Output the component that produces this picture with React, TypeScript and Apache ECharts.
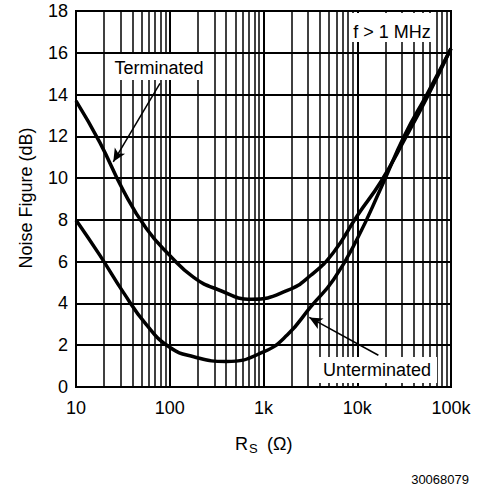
import React, { useEffect, useRef } from "react";
import * as echarts from "echarts";

// Source resistance (ohm) and noise figure (dB)
const termR = [10, 18, 32, 56, 100, 180, 320, 750, 1800, 3200, 5600, 10000, 18000, 32000, 56000, 100000];
const termNF = [13.7, 11.7, 9.4, 7.6, 6.3, 5.25, 4.68, 4.2, 4.62, 5.35, 6.45, 8.2, 9.85, 11.85, 13.9, 16.2];

const untermR = [10, 18, 32, 56, 100, 180, 400, 1000, 1800, 3200, 5600, 10000, 18000, 32000, 56000, 100000];
const untermNF = [8.0, 6.3, 4.53, 3.0, 1.9, 1.45, 1.22, 1.68, 2.5, 3.85, 5.15, 7.1, 9.55, 12.05, 14.05, 16.2];

const xTickLabels: Record<number, string> = { 10: "10", 100: "100", 1000: "1k", 10000: "10k", 100000: "100k" };
const minorGrid = [
  20, 30, 40, 50, 60, 70, 80, 90,
  200, 300, 400, 500, 600, 700, 800, 900,
  2000, 3000, 4000, 5000, 6000, 7000, 8000, 9000,
  20000, 30000, 40000, 50000, 60000, 70000, 80000, 90000,
];
// arrows: [start, tip] in data coordinates
const termArrow = [[78.7, 14.54], [25, 10.78]];
const untermArrow = [[16800, 1.52], [3080, 3.33]];

const FONT = "'Liberation Sans', Arial, Helvetica, sans-serif";

export default function App() {
  const ref = useRef<HTMLDivElement>(null);
  useEffect(() => {
    document.body.style.margin = "0";
    if (!ref.current) return;
    const chart = echarts.init(ref.current, undefined, { renderer: "svg" });
    const pair = (xs: number[], ys: number[]) => xs.map((x, i) => [x, ys[i]]);
    const txt = (text: string, x: number, y: number, size: number, align = "center", extra: any = {}) => ({
      type: "text",
      x,
      y,
      z: 101,
      ...extra,
      style: {
        text,
        fontSize: size,
        fontFamily: FONT,
        fill: "#000",
        align,
        verticalAlign: "middle",
        textAlign: align,
        textVerticalAlign: "middle",
      },
    });
    const box = (x: number, y: number, w: number, h: number) => ({
      type: "rect",
      z: 100,
      shape: { x, y, width: w, height: h },
      style: { fill: "#fff" },
    });
    chart.setOption({
      animation: false,
      grid: { left: 76, top: 11, right: 29, bottom: 99, show: true, borderColor: "#000", borderWidth: 2 },
      xAxis: {
        type: "log",
        logBase: 10,
        min: 10,
        max: 100000,
        axisLine: { show: true, lineStyle: { color: "#000", width: 2 } },
        axisTick: { show: false },
        splitLine: { show: true, lineStyle: { color: "#000", width: 2 } },
        axisLabel: {
          fontSize: 18,
          fontFamily: FONT,
          color: "#000",
          margin: 12,
          formatter: (v: number) => xTickLabels[Math.round(v)] ?? "",
        },
      },
      yAxis: {
        type: "value",
        min: 0,
        max: 18,
        interval: 2,
        axisLine: { show: true, lineStyle: { color: "#000", width: 2 } },
        axisTick: { show: false },
        splitLine: { show: true, lineStyle: { color: "#000", width: 2 } },
        axisLabel: { fontSize: 18, fontFamily: FONT, color: "#000", margin: 8 },
      },
      series: [
        {
          type: "line",
          data: [],
          z: 1,
          silent: true,
          markLine: {
            silent: true,
            symbol: ["none", "none"],
            label: { show: false },
            lineStyle: { color: "#000", width: 1.5, type: "solid" },
            data: minorGrid.map((v) => ({ xAxis: v })),
          },
        },
        {
          name: "Terminated",
          type: "line",
          data: pair(termR, termNF),
          smooth: 0.5,
          showSymbol: false,
          z: 5,
          lineStyle: { color: "#000", width: 3.5 },
          markLine: {
            silent: true,
            symbol: ["none", "arrow"],
            symbolSize: [9, 13],
            label: { show: false },
            lineStyle: { color: "#000", width: 1.5, type: "solid" },
            data: [[{ coord: termArrow[0] }, { coord: termArrow[1] }]],
          },
        },
        {
          name: "Unterminated",
          type: "line",
          data: pair(untermR, untermNF),
          smooth: 0.5,
          showSymbol: false,
          z: 5,
          lineStyle: { color: "#000", width: 3.5 },
          markLine: {
            silent: true,
            symbol: ["none", "arrow"],
            symbolSize: [9, 13],
            label: { show: false },
            lineStyle: { color: "#000", width: 1.5, type: "solid" },
            data: [[{ coord: untermArrow[0] }, { coord: untermArrow[1] }]],
          },
        },
      ],
      graphic: [
        box(108, 54, 102, 26),
        txt("Terminated", 159, 68, 18),
        box(350, 13, 85, 29),
        txt("f > 1 MHz", 392, 32, 18),
        box(316, 357, 121, 26),
        txt("Unterminated", 377, 370, 18),
        txt("Noise Figure (dB)", 26, 198, 18, "center", { rotation: Math.PI / 2 }),
        txt("R", 235, 444, 18, "left"),
        txt("S", 249, 448, 13, "left"),
        txt("(Ω)", 267, 444, 18, "left"),
        txt("30068079", 469, 479, 13, "right"),
      ],
    });
    return () => chart.dispose();
  }, []);
  return <div ref={ref} style={{ width: 480, height: 486 }} />;
}
